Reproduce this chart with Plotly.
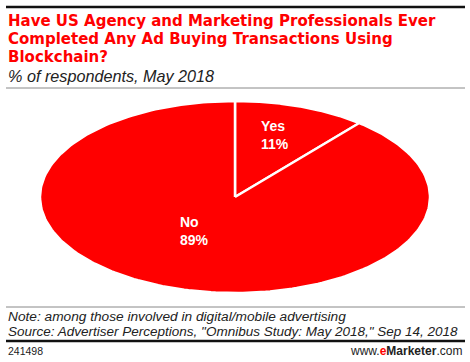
import numpy as np
import plotly.graph_objects as go

labels = ["Yes", "No"]
values = [11, 89]
title_lines = ["Have US Agency and Marketing Professionals Ever",
               "Completed Any Ad Buying Transactions Using",
               "Blockchain?"]
subtitle = "% of respondents, May 2018"
note = "Note: among those involved in digital/mobile advertising"
source = "Source: Advertiser Perceptions, \"Omnibus Study: May 2018,\" Sep 14, 2018"
chart_id = "241498"

W, H = 470, 362
RED = "#ff0000"
FONT = "Liberation Sans"

fig = go.Figure()

# pie sectors drawn as filled paths on a unit circle; the axes' unequal
# scaling renders the circle as the flattened ellipse of the original
total = sum(values)
start = 90.0
for lab, v in zip(labels, values):
    sweep = v / total * 360.0
    ang = np.radians(np.linspace(start, start - sweep, 240))
    xs = np.concatenate([[0], np.cos(ang), [0]])
    ys = np.concatenate([[0], np.sin(ang), [0]])
    fig.add_trace(go.Scatter(x=xs, y=ys, mode="lines", fill="toself",
                             fillcolor=RED, line=dict(color="white", width=2.5),
                             hoverinfo="skip", showlegend=False))
    start -= sweep

# label positions (data units)
label_pos = {"Yes": (0.122, 0.65), "No": (-0.293, -0.35)}
for lab, v in zip(labels, values):
    x, y = label_pos[lab]
    fig.add_annotation(x=x, y=y, xref="x", yref="y", xanchor="left", yanchor="middle",
                       text=f"<b>{lab}</b><br><b>{v}%</b>", showarrow=False, align="left",
                       font=dict(family=FONT, size=14, color="white"))

cx, cy, rx, ry = 235, 197, 195, 96
fig.update_xaxes(range=[-cx / rx, (W - cx) / rx], visible=False, domain=[0, 1])
fig.update_yaxes(range=[-(H - cy) / ry, cy / ry], visible=False, domain=[0, 1])

def px(x):
    return x / W

def py(y):
    return 1 - y / H

for t, yy in zip(title_lines, [21.5, 39, 56.5]):
    fig.add_annotation(x=px(6), y=py(yy), xref="paper", yref="paper", xanchor="left",
                       yanchor="middle", text=f"<b>{t}</b>", showarrow=False,
                       font=dict(family="DejaVu Sans", size=15.0, color=RED))
fig.add_annotation(x=px(6), y=py(76), xref="paper", yref="paper", xanchor="left",
                   yanchor="middle", text=f"<i>{subtitle}</i>", showarrow=False,
                   font=dict(family=FONT, size=16.2, color="#222"))
fig.add_annotation(x=px(6), y=py(316), xref="paper", yref="paper", xanchor="left",
                   yanchor="middle", text=f"<i>{note}</i>", showarrow=False,
                   font=dict(family=FONT, size=13.7, color="#222"))
fig.add_annotation(x=px(6), y=py(331.5), xref="paper", yref="paper", xanchor="left",
                   yanchor="middle", text=f"<i>{source}</i>", showarrow=False,
                   font=dict(family=FONT, size=13.5, color="#222"))
fig.add_annotation(x=px(6), y=py(351), xref="paper", yref="paper", xanchor="left",
                   yanchor="middle", text=chart_id, showarrow=False,
                   font=dict(family=FONT, size=10.5, color="#222"))
fig.add_annotation(x=px(464), y=py(351), xref="paper", yref="paper", xanchor="right",
                   yanchor="middle",
                   text="www.<b><span style='color:#ff0000'>e</span>Marketer</b>.com",
                   showarrow=False, font=dict(family=FONT, size=12, color="#222"))

fig.add_shape(type="line", xref="paper", yref="paper", x0=px(6), x1=px(465),
              y0=py(7), y1=py(7), line=dict(color="#111", width=2.5))
fig.add_shape(type="line", xref="paper", yref="paper", x0=px(6), x1=px(465),
              y0=py(88), y1=py(88), line=dict(color="#888", width=1))
fig.add_shape(type="line", xref="paper", yref="paper", x0=px(6), x1=px(465),
              y0=py(307), y1=py(307), line=dict(color="#888", width=1))
fig.add_shape(type="line", xref="paper", yref="paper", x0=px(6), x1=px(465),
              y0=py(341), y1=py(341), line=dict(color="#111", width=2.5))

fig.update_layout(width=W, height=H, margin=dict(l=0, r=0, t=0, b=0),
                  paper_bgcolor="white", plot_bgcolor="white")

fig.write_html("out.html", config={"displayModeBar": False},
               post_script="document.body.style.margin='0';document.body.style.overflow='hidden';")
